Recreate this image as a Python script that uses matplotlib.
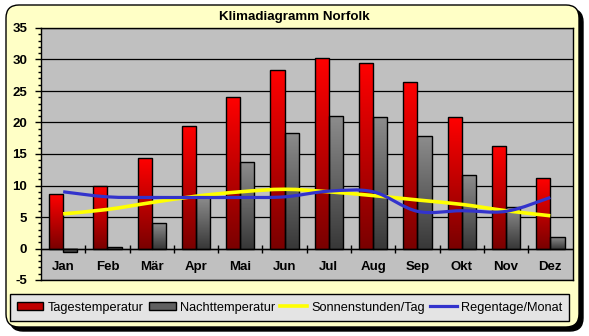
import numpy as np
import matplotlib
matplotlib.use("Agg")
import matplotlib.pyplot as plt
from matplotlib.colors import LinearSegmentedColormap
from matplotlib.patches import FancyBboxPatch, PathPatch, Patch
from matplotlib.path import Path
from matplotlib.lines import Line2D
from matplotlib.transforms import IdentityTransform

plt.rcParams['font.family'] = ['Liberation Sans', 'DejaVu Sans']

# data
months = ['Jan', 'Feb', 'Mär', 'Apr', 'Mai', 'Jun', 'Jul', 'Aug', 'Sep', 'Okt', 'Nov', 'Dez']
tages = [8.6, 9.9, 14.4, 19.5, 24.1, 28.4, 30.3, 29.5, 26.5, 20.9, 16.3, 11.2]
nacht = [-0.5, 0.3, 4.1, 8.1, 13.8, 18.4, 21.1, 20.9, 17.9, 11.7, 6.6, 1.9]
sonne = [5.5, 6.2, 7.3, 8.3, 9.0, 9.4, 9.0, 8.4, 7.7, 7.0, 6.0, 5.2]
regen = [9.0, 8.2, 8.1, 8.1, 8.1, 8.2, 9.1, 9.0, 5.9, 6.0, 5.9, 8.1]

W, H = 589, 336
fig = plt.figure(figsize=(W / 100, H / 100), dpi=100)
fig.patch.set_facecolor('white')

# rounded yellow frame with shadow (pixel coordinates)
shadow = FancyBboxPatch((10, 5), 573, 322, boxstyle="round,pad=0,rounding_size=13",
                        transform=IdentityTransform(), facecolor='black', edgecolor='black',
                        zorder=-2)
frame = FancyBboxPatch((6, 9), 573, 322, boxstyle="round,pad=0,rounding_size=13",
                       transform=IdentityTransform(), facecolor='#FFFFC6', edgecolor='black',
                       lw=1, zorder=-1)
fig.patches.extend([shadow, frame])

ax = fig.add_axes([41 / W, 1 - 280 / H, 531.5 / W, 252 / H])
ax.set_facecolor('#C0C0C0')
ax.set_axisbelow(True)

red_cmap = LinearSegmentedColormap.from_list('r', ['#7A0000', '#FF0000'])
grey_cmap = LinearSegmentedColormap.from_list('g', ['#383838', '#8C8C8C'])
grad = np.linspace(0, 1, 100).reshape(-1, 1)

x = np.arange(len(months))
bw = 0.32
for xs, vals, cmap in [(x - bw, tages, red_cmap), (x, nacht, grey_cmap)]:
    for x0, v in zip(xs, vals):
        lo, hi = min(0, v), max(0, v)
        ax.imshow(grad, cmap=cmap, extent=[x0, x0 + bw, lo, hi], origin='lower',
                  aspect='auto', zorder=2, interpolation='bilinear')
    ax.bar(xs, vals, width=bw, align='edge', facecolor='none', edgecolor='black',
           lw=1.0, zorder=3)


def smooth_path(xv, yv):
    pts = np.column_stack([xv, yv]).astype(float)
    verts = [pts[0]]
    codes = [Path.MOVETO]
    n = len(pts)
    for i in range(n - 1):
        p0 = pts[max(i - 1, 0)]
        p1 = pts[i]
        p2 = pts[i + 1]
        p3 = pts[min(i + 2, n - 1)]
        verts += [p1 + (p2 - p0) / 6, p2 - (p3 - p1) / 6, p2]
        codes += [Path.CURVE4] * 3
    return Path(verts, codes)


ax.add_patch(PathPatch(smooth_path(x, sonne), fill=False, edgecolor='#FFFF00', lw=2.6, zorder=4,
                       capstyle='butt'))
ax.add_patch(PathPatch(smooth_path(x, regen), fill=False, edgecolor='#3333CC', lw=2.3, zorder=5,
                       capstyle='butt'))

ax.set_xlim(-0.5, 11.5)
ax.set_ylim(-5, 35)
ax.set_yticks(np.arange(-5, 36, 5))
ax.set_yticks(np.arange(-5, 36, 1), minor=True)
ax.set_yticklabels([str(v) for v in range(-5, 36, 5)], fontweight='bold', fontsize=9.5)
ax.tick_params(axis='y', which='major', length=4, width=1, direction='out', pad=6)
ax.tick_params(axis='y', which='minor', length=2.5, width=1, direction='out')
ax.set_xticks([])
ax.yaxis.grid(True, color='black', lw=0.9)
for s in ax.spines.values():
    s.set_color('black')
    s.set_linewidth(1)

# category axis crossing at 0
ax.axhline(0, color='black', lw=1, zorder=3.5)
ax.vlines(x[:-1] + 0.5, -0.65, 0.5, color='black', lw=1, zorder=3.5)
for xi, m in zip(x, months):
    ax.text(xi, -3.0, m, ha='center', va='center', fontsize=9.5, fontweight='bold')

fig.text(0.5, 1 - 17 / H, 'Klimadiagramm Norfolk', ha='center', va='center',
         fontsize=9.6, fontweight='bold')

handles = [Patch(facecolor='#C00000', edgecolor='black', lw=1),
           Patch(facecolor='#606060', edgecolor='black', lw=1),
           Line2D([], [], color='#FFFF00', lw=2.6),
           Line2D([], [], color='#3333CC', lw=2.3)]
labels = ['Tagestemperatur', 'Nachttemperatur', 'Sonnenstunden/Tag', 'Regentage/Monat']
leg = fig.legend(handles, labels, loc='center', bbox_to_anchor=(289.5 / W, 1 - 307.5 / H),
                 ncol=4, fontsize=9.2, frameon=True, fancybox=False, handlelength=2.1,
                 handleheight=0.55, handletextpad=0.3, columnspacing=0.45, borderpad=0.55,
                 borderaxespad=0)
leg.get_frame().set_facecolor('#E4E4E4')
leg.get_frame().set_edgecolor('black')
leg.get_frame().set_linewidth(1)
leg.get_frame().set_alpha(1)

fig.savefig('out.png', dpi=100)
